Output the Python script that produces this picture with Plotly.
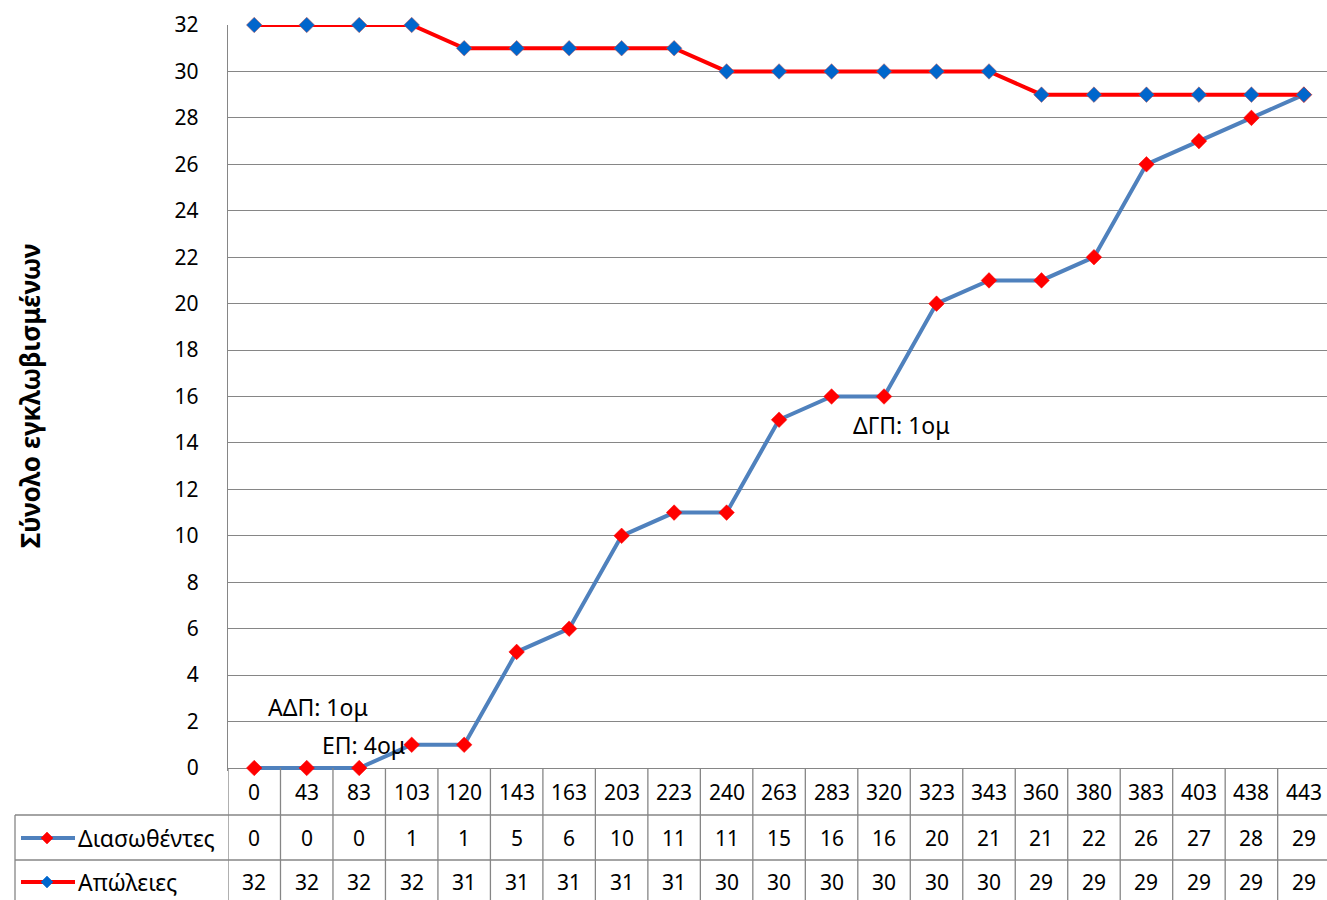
import plotly.graph_objects as go

# ---- data ----
times = ["0", "43", "83", "103", "120", "143", "163", "203", "223", "240", "263",
         "283", "320", "323", "343", "360", "380", "383", "403", "438", "443"]
rescued = [0, 0, 0, 1, 1, 5, 6, 10, 11, 11, 15, 16, 16, 20, 21, 21, 22, 26, 27, 28, 29]
losses = [32, 32, 32, 32, 31, 31, 31, 31, 31, 30, 30, 30, 30, 30, 30, 29, 29, 29, 29, 29, 29]
series_names = ["Διασωθέντες", "Απώλειες"]
y_title = "Σύνολο εγκλωβισμένων"
notes = [("ΑΔΠ: 1ομ", 1.22, 2.63), ("ΕΠ: 4ομ", 2.08, 0.99), ("ΔΓΠ: 1ομ", 12.33, 14.77)]

# ---- geometry ----
W, H = 1327, 900
ML, MR, MT = 228, 0, 25
PLOT_BOTTOM = 771
MB = H - PLOT_BOTTOM
Y0_PX = 768
y_per_px = 32 / (Y0_PX - MT)
y_low = -(PLOT_BOTTOM - Y0_PX) * y_per_px
PW = W - ML - MR
PH = PLOT_BOTTOM - MT

def px_x(px):
    return (px - ML) / PW

def px_y(py):
    return (PLOT_BOTTOM - py) / PH

FONT = "Noto Sans"
FS = 21      # digits
FSG = 23     # Greek labels
GRID = "#868686"
BLUE = "#4F81BD"
RED = "#FF0000"
MBLUE = "#0066CC"

idx = list(range(len(times)))

fig = go.Figure()
fig.add_trace(go.Scatter(
    x=idx, y=rescued, mode="lines+markers", name=series_names[0],
    line=dict(color=BLUE, width=4),
    marker=dict(symbol="diamond", size=12, color=RED, line=dict(color=RED, width=0.5)),
    cliponaxis=False, showlegend=False))
fig.add_trace(go.Scatter(
    x=idx, y=losses, mode="lines+markers", name=series_names[1],
    line=dict(color=RED, width=4),
    marker=dict(symbol="diamond", size=12, color=MBLUE, line=dict(color="#C0504D", width=0.5)),
    cliponaxis=False, showlegend=False))

shapes = []
annotations = []

def txt(x, y, text, xref, yref, size, xanchor="center", **kw):
    return dict(x=x, y=y, xref=xref, yref=yref, text=text, showarrow=False,
                xanchor=xanchor, yanchor="middle",
                font=dict(family=FONT, size=size, color="black"), **kw)

# table rows
row_y = {"head": 792, 0: 838, 1: 882}
for py in [815, 860]:
    shapes.append(dict(type="line", xref="paper", yref="paper",
                       x0=px_x(15), x1=1.01, y0=px_y(py), y1=px_y(py),
                       line=dict(color=GRID, width=1.3)))
shapes.append(dict(type="line", xref="paper", yref="paper",
                   x0=px_x(15), x1=px_x(15), y0=px_y(815), y1=px_y(905),
                   line=dict(color=GRID, width=1.3)))
for k in range(len(times) + 1):
    shapes.append(dict(type="line", xref="x", yref="paper",
                       x0=k - 0.5, x1=k - 0.5, y0=px_y(Y0_PX), y1=px_y(905),
                       line=dict(color=GRID, width=1.3)))

for i, t in enumerate(times):
    annotations.append(txt(i, px_y(row_y["head"]), t, "x", "paper", FS))
    annotations.append(txt(i, px_y(row_y[0]), str(rescued[i]), "x", "paper", FS))
    annotations.append(txt(i, px_y(row_y[1]), str(losses[i]), "x", "paper", FS))

# legend keys inside table
for r, (lc, mc) in enumerate([(BLUE, RED), (RED, MBLUE)]):
    py = row_y[r]
    shapes.append(dict(type="line", xref="paper", yref="paper",
                       x0=px_x(21), x1=px_x(75), y0=px_y(py), y1=px_y(py),
                       line=dict(color=lc, width=4)))
    cx, cy, d = 47, py, 6
    path = "M {} {} L {} {} L {} {} L {} {} Z".format(
        px_x(cx - d), px_y(cy), px_x(cx), px_y(cy - d), px_x(cx + d), px_y(cy), px_x(cx), px_y(cy + d))
    shapes.append(dict(type="path", xref="paper", yref="paper", path=path,
                       fillcolor=mc, line=dict(color=mc, width=0.5)))
    annotations.append(txt(px_x(76), px_y(py), series_names[r], "paper", "paper", FSG, xanchor="left"))

# notes
for t, xi, yv in notes:
    annotations.append(txt(xi, yv, t, "x", "y", FSG))

# y title
annotations.append(txt(px_x(30), px_y(396), "<b>" + y_title + "</b>", "paper", "paper", 26,
                       textangle=-90))

fig.update_layout(
    width=W, height=H,
    margin=dict(l=ML, r=MR, t=MT, b=MB, pad=0),
    paper_bgcolor="white", plot_bgcolor="white",
    shapes=shapes, annotations=annotations,
    font=dict(family=FONT, size=FS, color="black"),
)
fig.update_xaxes(range=[-0.5, 20.44], showgrid=False, showticklabels=False,
                 zeroline=False, showline=False, ticks="")
fig.update_yaxes(range=[y_low, 32], tickvals=list(range(0, 33, 2)), showgrid=True,
                 gridcolor=GRID, gridwidth=1.3, zeroline=False, showline=True,
                 linecolor=GRID, linewidth=1.3, ticks="", ticklabelstandoff=24,
                 tickfont=dict(family=FONT, size=FS, color="black"))

fig.write_html("out.html", config={"displayModeBar": False},
               post_script="document.body.style.margin='0';document.body.style.overflow='hidden';")
